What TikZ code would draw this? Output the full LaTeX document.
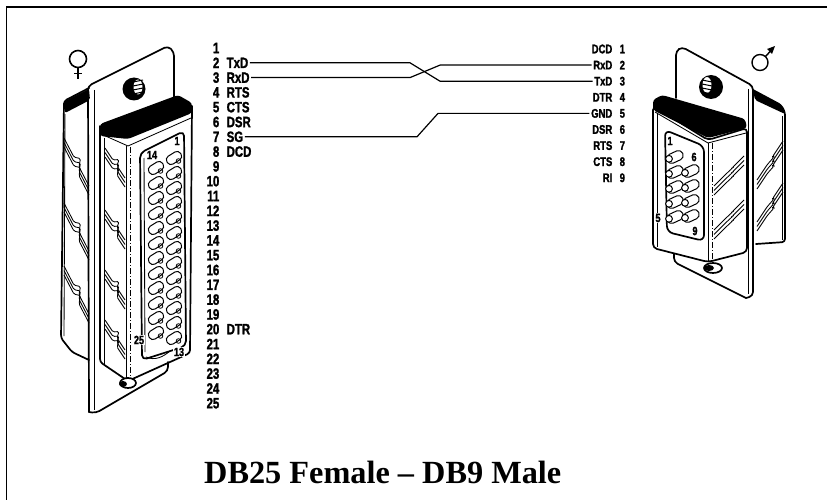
\documentclass[tikz,border=0pt]{standalone}
\usepackage{fontspec}
\usetikzlibrary{calc}
\newfontfamily\pinfont[FakeStretch=0.76, BoldFeatures={FakeBold=1.5}]{Liberation Sans}
\newfontfamily\titlefont{Liberation Serif}
\newcommand\wavygrp[4]{%
  \foreach \dd in {0,4.5,9}{%
    \draw[thn, rounded corners=1.5pt] (#1,#2+\dd) -- ($(#1,#2+\dd)!0.4!(#3,#4+\dd)$) -- ($($(#1,#2+\dd)!0.5!(#3,#4+\dd)$)+(4,-3.5)$) -- ($(#1,#2+\dd)!0.6!(#3,#4+\dd)$) -- (#3,#4+\dd);
  }}
\begin{document}
\begin{tikzpicture}[x=1pt,y=-1pt,
  outl/.style={line width=1.7pt, line join=round, line cap=round},
  thn/.style={line width=0.85pt},
  lpin/.style={font=\pinfont\bfseries\fontsize{15}{15}\selectfont, inner sep=1.5pt},
  rpin/.style={font=\pinfont\bfseries\fontsize{12.5}{12.5}\selectfont, inner sep=1.5pt},
  wire/.style={line width=1.2pt},
  small/.style={font=\pinfont\bfseries\fontsize{12}{12}\selectfont, inner sep=0.5pt},
  fpin/.pic={\draw[line width=1pt, fill=white, rounded corners=4pt, rotate=32] (-8,-4.6) rectangle (8,4.6); \draw[line width=0.8pt] (4.5,3) circle (2.3);},
  mpin/.pic={\draw[line width=1pt, rounded corners=4.5pt, fill=white, rotate=25] (-8.5,-4.8) rectangle (8.5,4.8); \draw[line width=1pt, fill=white] (-6,1.8) circle (3.4);}]
\useasboundingbox (0,0) rectangle (827,500);
\fill[white] (0,0) rectangle (827,500);
% frame
\draw[line width=1.8pt] (827,7) -- (6.5,7) -- (6.5,500);

% ---------- left pin labels ----------
\foreach \n in {1,...,25}{
  \node[lpin, anchor=east] (ln\n) at (221,{48+14.8*(\n-1)}) {\n};
}
\node[lpin, anchor=west] (lTxD) at (225,62.8) {TxD};
\node[lpin, anchor=west] (lRxD) at (225,77.6) {RxD};
\node[lpin, anchor=west] (lRTS) at (225,92.4) {RTS};
\node[lpin, anchor=west] (lCTS) at (225,107.2) {CTS};
\node[lpin, anchor=west] (lDSR) at (225,122) {DSR};
\node[lpin, anchor=west] (lSG) at (225,136.8) {SG};
\node[lpin, anchor=west] (lDCD) at (225,151.6) {DCD};
\node[lpin, anchor=west] (lDTR) at (225,329.2) {DTR};

% ---------- right pin labels ----------
\foreach \n/\t/\nm in {1/DCD/rDCD,2/RxD/rRxD,3/TxD/rTxD,4/DTR/rDTR,5/GND/rGND,6/DSR/rDSR,7/RTS/rRTS,8/CTS/rCTS,9/RI/rRI}{
  \node[rpin, anchor=east] (\nm) at (614,{49+16.1*(\n-1)}) {\t};
  \node[rpin, anchor=west] (rn\n) at (618,{49+16.1*(\n-1)}) {\n};
}

% ---------- wires ----------
\coordinate (c1) at (410,0);
\coordinate (c2) at (440,0);
\coordinate (c3) at (417,0);
\coordinate (c4) at (438,0);
\draw[wire] (lTxD.east) -- (lTxD.east -| c1) -- (rTxD.west -| c2) -- (rTxD.west);
\draw[wire] (lRxD.east) -- (lRxD.east -| c1) -- (rRxD.west -| c2) -- (rRxD.west);
\draw[wire] (lSG.east) -- (lSG.east -| c3) -- (rGND.west -| c4) -- (rGND.west);

% ---------- DB25 female ----------
% symbol
\draw[line width=1.6pt] (78,59) circle (8.5);
\draw[line width=1.6pt] (78,67.5) -- (78,79) (74,73.5) -- (82,73.5);
% rear shell
\draw[outl, rounded corners=3pt] (89,88) -- (64,101) -- (61,338) -- (72,352) -- (89,360);
\draw[thn] (65,114) -- (64,336);
\fill[rounded corners=2pt] (63,102) -- (89,89) -- (90,100) -- (65,113) -- cycle;
\wavygrp{64}{138}{89}{186}
\wavygrp{64}{203}{89}{251}
\wavygrp{64}{266}{89}{314}
% plate
\draw[outl, rounded corners=4pt] (89,412) -- (88,86) -- (168,46) -- (174,52) -- (174,98);
\draw[thn] (94,90) -- (94,410);
\draw[outl, rounded corners=4pt] (168,362) -- (168,371) -- (96,413) -- (89,412);
% screw hole
\fill (134,89) circle (11.5);
\fill[white] (138,87) ellipse (4.5 and 7.5);
\foreach \yy in {82,86,90,94} \draw[line width=1pt] (133,\yy) -- (143,\yy-2);
% front shell
\fill[rounded corners=3pt] (100,136) -- (100,124) -- (178,95) -- (192,103) -- (192,113) -- (128,139) -- cycle;
\draw[outl, rounded corners=3pt] (100,126) -- (100,362) -- (128,381) -- (190,353) -- (192,106);
\draw[thn] (101,134) -- (128,146) -- (191,118);
\draw[thn] (104,138) -- (104,364);
\draw[thn] (126,146) -- (126,379);
\draw[thn, dash pattern=on 6pt off 2pt on 1pt off 2pt] (130,147) -- (130,377);
\wavygrp{105}{148}{125}{178}
\wavygrp{105}{210}{125}{240}
\wavygrp{105}{270}{125}{300}
\wavygrp{105}{320}{125}{350}
% insert
\draw[outl, rounded corners=5pt] (140,153) -- (184,131) -- (186,346) -- (142,360) -- cycle;
\draw[thn] (144,158) -- (145,352);
\foreach \i in {0,...,12} \pic at (174,{158+15*\i}) {fpin};
\foreach \i in {0,...,11} \pic at (156,{168+15*\i}) {fpin};
\draw[thn] (146,357) .. controls (155,361) and (163,357) .. (170,351);
\node[small] (p1) at (177,141) {1};
\node[small] (p14) at (152,155) {14};
\node[small, fill=white] (p25) at (139,340) {25};
\node[small, fill=white] (p13) at (179,352) {13};
% jack
\draw[outl, fill=white] (128,383) ellipse (8 and 5);
\fill (123,384) ellipse (4 and 3);

% ---------- DB9 male ----------
% symbol
\draw[line width=1.4pt] (760,62.5) circle (8);
\draw[line width=1.4pt] (765.5,56.5) -- (771,50.5);
\fill (775,46) -- (767,49) -- (772,54) -- cycle;
% back shell
\draw[outl, rounded corners=3pt] (753,90) -- (781,105) -- (785,112) -- (785,242) -- (756,244);
\fill[rounded corners=2pt] (753,90) -- (782,105) -- (785,114) -- (755,100) -- cycle;
\draw[thn] (782,116) -- (782,240);
\wavygrp{757}{180}{783}{141}
\wavygrp{757}{222}{783}{183}
% plate
\draw[outl, rounded corners=4pt] (676,98) -- (676,51) -- (682,47) -- (753,86) -- (753,296) -- (746,298);
\draw[thn] (748,89) -- (748,294);
\draw[outl, rounded corners=4pt] (674,248) -- (674,262) -- (746,298);
% screw hole
\fill (711,87) circle (12);
\fill[white] (707,85) ellipse (4.5 and 8);
\foreach \yy in {80,84,88,92} \draw[line width=1pt] (702,\yy) -- (712,\yy+2);
% front shell
\draw[outl, fill=white, rounded corners=4pt] (653,106) -- (653,248) -- (708,262) -- (747,252) -- (747,128) -- (708,140) -- cycle;
\fill[rounded corners=3pt] (653,110) -- (653,100) -- (662,95) -- (745,119) -- (747,128) -- (708,138) -- cycle;
\draw[thn] (655,112) -- (708,143) -- (746,133);
\draw[thn] (657,114) -- (657,247);
\draw[thn] (708,143) -- (708,261);
\draw[thn, dash pattern=on 6pt off 2pt on 1pt off 2pt] (712,143) -- (712,259);
\wavygrp{714}{186}{744}{156}
\wavygrp{714}{230}{744}{200}
% insert
\draw[outl, rounded corners=6pt] (665,130) -- (704,146) -- (704,241) -- (667,232) -- cycle;
\foreach \i in {0,...,4} \pic at (675,{157+15*\i}) {mpin};
\foreach \i in {0,...,3} \pic at (691,{171+15*\i}) {mpin};
\node[small] (m1) at (670,141) {1};
\node[small] (m6) at (694,157) {6};
\node[small, fill=white] (m5) at (658,218) {5};
\node[small] (m9) at (695,231) {9};
% jack
\draw[outl, fill=white] (713,268) ellipse (9 and 5);
\fill (709,268) ellipse (5 and 3);

% ---------- title ----------
\node[font=\titlefont\bfseries\fontsize{32.3}{32.3}\selectfont, anchor=base west, inner sep=0pt] (title) at (204,483) {DB25 Female \textendash{} DB9 Male};
\end{tikzpicture}
\end{document}
